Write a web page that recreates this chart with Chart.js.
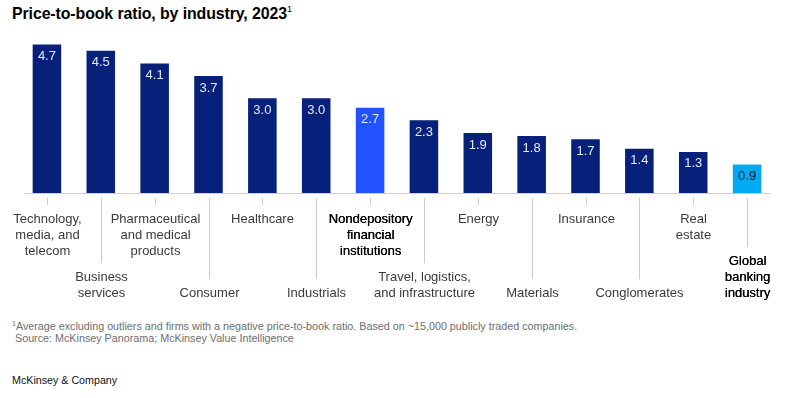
<!DOCTYPE html>
<html>
<head>
<meta charset="utf-8">
<script src="https://cdn.jsdelivr.net/npm/chart.js@4"></script>
<style>
  html, body { margin:0; padding:0; background:#fff; }
  body { width:805px; height:398px; position:relative; overflow:hidden; font-family:"Liberation Sans", Arial, sans-serif; }
  #title { position:absolute; left:12px; top:5px; font-size:15.9px; font-weight:bold; color:#000; white-space:nowrap; letter-spacing:-0.1px; }
  #title sup { font-size:9px; font-weight:normal; vertical-align:top; position:relative; top:-1px; }
  #chartWrap { position:absolute; left:0; top:0; width:805px; height:300px; }
  .foot { position:absolute; left:12px; font-size:10.75px; color:#6e6e6e; white-space:nowrap; }
  .foot sup { font-size:7px; vertical-align:top; }
  #brand { position:absolute; left:12px; top:374px; font-size:10.7px; color:#111; white-space:nowrap; }
</style>
</head>
<body>
<div id="title">Price-to-book ratio, by industry, 2023<sup>1</sup></div>
<div id="chartWrap"><canvas id="c" width="805" height="300"></canvas></div>
<div class="foot" style="top:320px"><sup>1</sup>Average excluding outliers and firms with a negative price-to-book ratio. Based on ~15,000 publicly traded companies.</div>
<div class="foot" style="top:332px">&nbsp;Source: McKinsey Panorama; McKinsey Value Intelligence</div>
<div id="brand">McKinsey &amp; Company</div>
<script>
const categories = [
  ["Technology,", "media, and", "telecom"],
  ["Business", "services"],
  ["Pharmaceutical", "and medical", "products"],
  ["Consumer"],
  ["Healthcare"],
  ["Industrials"],
  ["Nondepository", "financial", "institutions"],
  ["Travel, logistics,", "and infrastructure"],
  ["Energy"],
  ["Materials"],
  ["Insurance"],
  ["Conglomerates"],
  ["Real", "estate"],
  ["Global", "banking", "industry"]
];
const values = [4.7, 4.5, 4.1, 3.7, 3.0, 3.0, 2.7, 2.3, 1.9, 1.8, 1.7, 1.4, 1.3, 0.9];
const valueLabels = ["4.7", "4.5", "4.1", "3.7", "3.0", "3.0", "2.7", "2.3", "1.9", "1.8", "1.7", "1.4", "1.3", "0.9"];
const emphasized = ["Nondepository financial institutions", "Global banking industry"];

const NAVY = "#07207a", BRIGHT = "#2251ff", CYAN = "#00a9f4";
const labelsJoined = categories.map(c => c.join(" "));
const barColors = labelsJoined.map(l =>
  l === "Nondepository financial institutions" ? BRIGHT :
  l === "Global banking industry" ? CYAN : NAVY);
const valueColors = labelsJoined.map(l => l === "Global banking industry" ? "#051c2c" : "#e6e9f5");

const FONT = '"Liberation Sans", Arial, sans-serif';

const annotate = {
  id: "annotate",
  afterDatasetsDraw(chart) {
    const ctx = chart.ctx;
    const xs = chart.scales.x, ys = chart.scales.y;
    const base = ys.getPixelForValue(0);
    const meta = chart.getDatasetMeta(0);
    ctx.save();
    ctx.strokeStyle = "#cfcfcf";
    ctx.lineWidth = 1;
    ctx.beginPath();
    ctx.moveTo(chart.chartArea.left + 4, Math.round(base) + 0.5);
    ctx.lineTo(chart.chartArea.right - 3, Math.round(base) + 0.5);
    ctx.stroke();
    ctx.font = "13px " + FONT;
    ctx.textAlign = "center";
    ctx.textBaseline = "middle";
    meta.data.forEach((bar, i) => {
      ctx.fillStyle = valueColors[i];
      ctx.fillText(valueLabels[i], bar.x, bar.y + 12);
    });
    const lh = 16;
    categories.forEach((lines, i) => {
      const x = Math.round(xs.getPixelForValue(i)) + 0.5;
      const emph = emphasized.includes(labelsJoined[i]);
      ctx.fillStyle = emph ? "#000" : "#3a3a3a";
      ctx.font = "13px " + FONT;
      ctx.strokeStyle = "#cccccc";
      let firstY;
      if (i % 2 === 0) {
        firstY = base + 26;
        ctx.beginPath();
        ctx.moveTo(x, base + 5);
        ctx.lineTo(x, base + 12);
        ctx.stroke();
      } else {
        firstY = base + 100 - lh * (lines.length - 1);
        ctx.beginPath();
        ctx.moveTo(x, base + 5);
        ctx.lineTo(x, firstY - 14);
        ctx.stroke();
      }
      lines.forEach((t, k) => {
        const ty = firstY + k * lh;
        ctx.fillText(t, x, ty);
        if (emph) ctx.fillText(t, x + 0.3, ty);
      });
    });
    ctx.restore();
  }
};

new Chart(document.getElementById("c"), {
  type: "bar",
  data: {
    labels: labelsJoined,
    datasets: [{
      data: values,
      backgroundColor: barColors,
      borderWidth: 0,
      barPercentage: 0.53,
      categoryPercentage: 1
    }]
  },
  options: {
    responsive: false,
    animation: false,
    events: [],
    layout: { padding: { left: 20, right: 31, top: 35, bottom: 107 } },
    scales: {
      x: { display: false },
      y: { display: false, min: 0, max: 5 }
    },
    plugins: { legend: { display: false }, tooltip: { enabled: false }, title: { display: false } }
  },
  plugins: [annotate]
});
</script>
</body>
</html>
